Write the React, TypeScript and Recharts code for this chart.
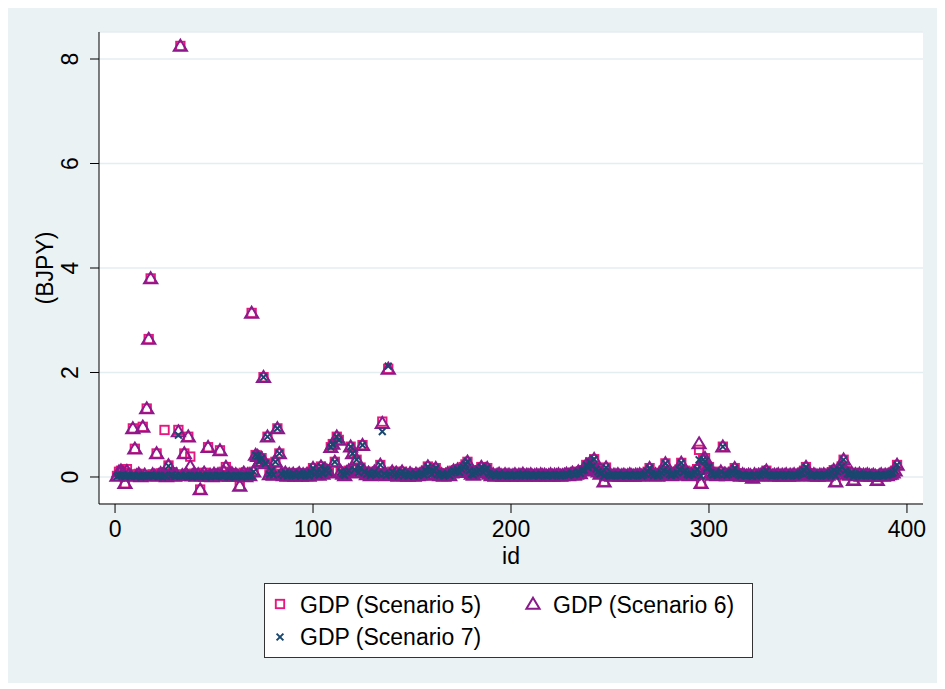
import React from 'react';
import { ScatterChart, Scatter, XAxis, YAxis, CartesianGrid } from 'recharts';

// GDP by id, three scenarios (BJPY); id runs 1..395
const gdpScenario6 = [
  0.02, 0.10, 0.12, 0.08, -0.12, 0.11, 0.05, 0.02, 0.93, 0.54, 0.03, 0.06, 0.01, 0.96, 0.04, 1.31, 2.64, 3.80, 0.05, 0.02,
  0.45, 0.03, 0.07, 0.04, 0.05, 0.01, 0.22, 0.04, 0.09, 0.02, 0.05, 0.87, 8.25, 0.03, 0.45, 0.06, 0.77, 0.20, 0.03, 0.06,
  0.02, 0.05, -0.24, 0.03, 0.08, 0.02, 0.57, 0.04, 0.01, 0.06, 0.03, 0.05, 0.51, 0.02, 0.10, 0.19, 0.04, 0.02, 0.07, 0.03,
  0.05, 0.02, -0.17, 0.04, 0.08, 0.01, 0.05, 0.03, 3.14, 0.10, 0.42, 0.40, 0.30, 0.36, 1.91, 0.26, 0.77, 0.05, 0.12, 0.04,
  0.29, 0.93, 0.45, 0.06, 0.03, 0.08, 0.02, 0.05, 0.03, 0.06, 0.02, 0.04, 0.07, 0.02, 0.05, 0.03, 0.06, 0.02, 0.08, 0.17,
  0.05, 0.09, 0.04, 0.20, 0.06, 0.15, 0.12, 0.08, 0.57, 0.63, 0.29, 0.77, 0.71, 0.10, 0.06, 0.03, 0.09, 0.12, 0.58, 0.45,
  0.14, 0.33, 0.08, 0.18, 0.61, 0.10, 0.05, 0.08, 0.03, 0.06, 0.10, 0.04, 0.07, 0.23, 1.03, 0.06, 0.03, 2.07, 0.05, 0.10,
  0.04, 0.08, 0.02, 0.06, 0.10, 0.03, 0.05, 0.02, 0.07, 0.04, 0.02, 0.06, 0.03, 0.05, 0.08, 0.04, 0.12, 0.20, 0.10, 0.05,
  0.12, 0.17, 0.06, 0.03, 0.05, 0.02, 0.04, 0.07, 0.03, 0.08, 0.12, 0.10, 0.14, 0.09, 0.15, 0.19, 0.24, 0.29, 0.12, 0.06,
  0.04, 0.08, 0.10, 0.13, 0.19, 0.09, 0.14, 0.17, 0.06, 0.03, 0.05, 0.02, 0.04, 0.06, 0.03, 0.02, 0.05, 0.03, 0.04, 0.02,
  0.03, 0.05, 0.02, 0.04, 0.03, 0.06, 0.02, 0.04, 0.03, 0.05, 0.02, 0.03, 0.04, 0.02, 0.05, 0.03, 0.04, 0.02, 0.03, 0.05,
  0.02, 0.04, 0.03, 0.05, 0.02, 0.03, 0.04, 0.06, 0.03, 0.05, 0.08, 0.04, 0.06, 0.10, 0.07, 0.12, 0.13, 0.23, 0.18, 0.28,
  0.20, 0.34, 0.15, 0.10, 0.06, 0.08, -0.09, 0.18, 0.05, 0.03, 0.02, 0.04, 0.03, 0.05, 0.02, 0.03, 0.04, 0.02, 0.03, 0.05,
  0.03, 0.02, 0.04, 0.03, 0.05, 0.02, 0.04, 0.06, 0.10, 0.17, 0.06, 0.03, 0.05, 0.02, 0.04, 0.08, 0.12, 0.26, 0.10, 0.05,
  0.03, 0.06, 0.04, 0.08, 0.14, 0.27, 0.09, 0.12, 0.05, 0.03, 0.06, 0.04, 0.08, 0.15, 0.64, -0.12, 0.33, 0.36, 0.17, 0.19,
  0.08, 0.04, 0.06, 0.03, 0.05, 0.10, 0.58, 0.06, 0.03, 0.05, 0.08, 0.10, 0.17, 0.07, 0.04, 0.02, 0.05, 0.03, 0.02, 0.04,
  0.03, -0.02, 0.05, 0.02, 0.04, 0.03, 0.06, 0.08, 0.12, 0.05, 0.03, 0.02, 0.04, 0.03, 0.05, 0.02, 0.04, 0.03, 0.05, 0.02,
  0.04, 0.03, 0.05, 0.02, 0.04, 0.06, 0.08, 0.12, 0.19, 0.07, 0.04, 0.02, 0.05, 0.03, 0.02, 0.04, 0.03, 0.05, 0.02, 0.04,
  0.06, 0.09, 0.13, -0.09, 0.10, 0.14, 0.20, 0.33, 0.12, 0.06, 0.04, 0.08, -0.06, 0.05, 0.03, 0.06, 0.02, 0.04, 0.03, 0.05,
  0.03, 0.02, 0.04, 0.02, -0.06, 0.03, 0.05, 0.02, 0.04, 0.03, 0.05, 0.06, 0.08, 0.12, 0.23,
];

const gdpScenario5 = [
  0.02, 0.10, 0.12, 0.08, -0.12, 0.15, 0.05, 0.02, 0.93, 0.54, 0.03, 0.06, 0.01, 0.96, 0.04, 1.31, 2.64, 3.80, 0.05, 0.02,
  0.45, 0.03, 0.07, 0.04, 0.90, 0.01, 0.22, 0.04, 0.09, 0.02, 0.05, 0.90, 8.25, 0.03, 0.45, 0.06, 0.77, 0.39, 0.03, 0.06,
  0.02, 0.05, -0.24, 0.03, 0.08, 0.02, 0.57, 0.04, 0.01, 0.06, 0.03, 0.05, 0.51, 0.02, 0.10, 0.19, 0.04, 0.02, 0.07, 0.03,
  0.05, 0.02, -0.17, 0.04, 0.08, 0.01, 0.05, 0.03, 3.14, 0.10, 0.42, 0.40, 0.30, 0.36, 1.91, 0.26, 0.77, 0.05, 0.12, 0.04,
  0.29, 0.93, 0.45, 0.06, 0.03, 0.08, 0.02, 0.05, 0.03, 0.06, 0.02, 0.04, 0.07, 0.02, 0.05, 0.03, 0.06, 0.02, 0.08, 0.17,
  0.05, 0.09, 0.04, 0.20, 0.06, 0.15, 0.12, 0.08, 0.57, 0.63, 0.29, 0.77, 0.71, 0.10, 0.06, 0.03, 0.09, 0.12, 0.58, 0.45,
  0.14, 0.33, 0.08, 0.18, 0.61, 0.10, 0.05, 0.08, 0.03, 0.06, 0.10, 0.04, 0.07, 0.23, 1.06, 0.06, 0.03, 2.07, 0.05, 0.10,
  0.04, 0.08, 0.02, 0.06, 0.10, 0.03, 0.05, 0.02, 0.07, 0.04, 0.02, 0.06, 0.03, 0.05, 0.08, 0.04, 0.12, 0.20, 0.10, 0.05,
  0.12, 0.17, 0.06, 0.03, 0.05, 0.02, 0.04, 0.07, 0.03, 0.08, 0.12, 0.10, 0.14, 0.09, 0.15, 0.19, 0.24, 0.29, 0.12, 0.06,
  0.04, 0.08, 0.10, 0.13, 0.19, 0.09, 0.14, 0.17, 0.06, 0.03, 0.05, 0.02, 0.04, 0.06, 0.03, 0.02, 0.05, 0.03, 0.04, 0.02,
  0.03, 0.05, 0.02, 0.04, 0.03, 0.06, 0.02, 0.04, 0.03, 0.05, 0.02, 0.03, 0.04, 0.02, 0.05, 0.03, 0.04, 0.02, 0.03, 0.05,
  0.02, 0.04, 0.03, 0.05, 0.02, 0.03, 0.04, 0.06, 0.03, 0.05, 0.08, 0.04, 0.06, 0.10, 0.07, 0.12, 0.13, 0.23, 0.18, 0.28,
  0.20, 0.34, 0.15, 0.10, 0.06, 0.08, -0.09, 0.18, 0.05, 0.03, 0.02, 0.04, 0.03, 0.05, 0.02, 0.03, 0.04, 0.02, 0.03, 0.05,
  0.03, 0.02, 0.04, 0.03, 0.05, 0.02, 0.04, 0.06, 0.10, 0.17, 0.06, 0.03, 0.05, 0.02, 0.04, 0.08, 0.12, 0.26, 0.10, 0.05,
  0.03, 0.06, 0.04, 0.08, 0.14, 0.27, 0.09, 0.12, 0.05, 0.03, 0.06, 0.04, 0.08, 0.15, 0.52, -0.12, 0.33, 0.36, 0.17, 0.19,
  0.08, 0.04, 0.06, 0.03, 0.05, 0.10, 0.58, 0.06, 0.03, 0.05, 0.08, 0.10, 0.17, 0.07, 0.04, 0.02, 0.05, 0.03, 0.02, 0.04,
  0.03, -0.02, 0.05, 0.02, 0.04, 0.03, 0.06, 0.08, 0.12, 0.05, 0.03, 0.02, 0.04, 0.03, 0.05, 0.02, 0.04, 0.03, 0.05, 0.02,
  0.04, 0.03, 0.05, 0.02, 0.04, 0.06, 0.08, 0.12, 0.19, 0.07, 0.04, 0.02, 0.05, 0.03, 0.02, 0.04, 0.03, 0.05, 0.02, 0.04,
  0.06, 0.09, 0.13, -0.09, 0.10, 0.14, 0.20, 0.33, 0.12, 0.06, 0.04, 0.08, -0.06, 0.05, 0.03, 0.06, 0.02, 0.04, 0.03, 0.05,
  0.03, 0.02, 0.04, 0.02, -0.06, 0.03, 0.05, 0.02, 0.04, 0.03, 0.05, 0.06, 0.08, 0.12, 0.23,
];

const gdpScenario7 = [
  0.01, 0.03, 0.02, 0.04, 0.01, 0.03, 0.02, 0.01, 0.03, 0.02, 0.01, 0.03, 0.00, 0.02, 0.01, 0.03, 0.02, 0.04, 0.01, 0.02,
  0.03, 0.01, 0.02, 0.00, 0.03, 0.01, 0.21, 0.02, 0.04, 0.01, 0.02, 0.80, 0.03, 0.01, 0.02, 0.03, 0.01, 0.02, 0.00, 0.03,
  0.01, 0.02, 0.01, 0.03, 0.02, 0.00, 0.02, 0.01, 0.03, 0.02, 0.01, 0.02, 0.03, 0.01, 0.02, 0.04, 0.01, 0.00, 0.02, 0.01,
  0.03, 0.01, 0.02, 0.00, 0.03, 0.01, 0.02, 0.01, 0.03, 0.10, 0.42, 0.40, 0.30, 0.36, 1.91, 0.26, 0.77, 0.05, 0.12, 0.04,
  0.29, 0.93, 0.45, 0.06, 0.03, 0.08, 0.02, 0.05, 0.03, 0.06, 0.02, 0.04, 0.07, 0.02, 0.05, 0.03, 0.06, 0.02, 0.08, 0.17,
  0.05, 0.09, 0.04, 0.20, 0.06, 0.15, 0.12, 0.08, 0.57, 0.63, 0.29, 0.77, 0.71, 0.10, 0.06, 0.03, 0.09, 0.12, 0.58, 0.45,
  0.14, 0.33, 0.08, 0.18, 0.61, 0.10, 0.05, 0.08, 0.03, 0.06, 0.10, 0.04, 0.07, 0.23, 0.87, 0.06, 0.03, 2.12, 0.05, 0.10,
  0.04, 0.08, 0.02, 0.06, 0.10, 0.03, 0.05, 0.02, 0.07, 0.04, 0.02, 0.06, 0.03, 0.05, 0.08, 0.04, 0.12, 0.20, 0.10, 0.05,
  0.12, 0.17, 0.06, 0.03, 0.05, 0.02, 0.04, 0.07, 0.03, 0.08, 0.12, 0.10, 0.14, 0.09, 0.15, 0.19, 0.24, 0.29, 0.12, 0.06,
  0.04, 0.08, 0.10, 0.13, 0.19, 0.09, 0.14, 0.17, 0.06, 0.03, 0.05, 0.02, 0.04, 0.06, 0.03, 0.02, 0.05, 0.03, 0.04, 0.02,
  0.03, 0.05, 0.02, 0.04, 0.03, 0.06, 0.02, 0.04, 0.03, 0.05, 0.02, 0.03, 0.04, 0.02, 0.05, 0.03, 0.04, 0.02, 0.03, 0.05,
  0.02, 0.04, 0.03, 0.05, 0.02, 0.03, 0.04, 0.06, 0.03, 0.05, 0.08, 0.04, 0.06, 0.10, 0.07, 0.12, 0.13, 0.23, 0.18, 0.28,
  0.20, 0.34, 0.15, 0.10, 0.06, 0.08, 0.02, 0.18, 0.05, 0.03, 0.02, 0.04, 0.03, 0.05, 0.02, 0.03, 0.04, 0.02, 0.03, 0.05,
  0.03, 0.02, 0.04, 0.03, 0.05, 0.02, 0.04, 0.06, 0.10, 0.17, 0.06, 0.03, 0.05, 0.02, 0.04, 0.08, 0.12, 0.26, 0.10, 0.05,
  0.03, 0.06, 0.04, 0.08, 0.14, 0.27, 0.09, 0.12, 0.05, 0.03, 0.06, 0.04, 0.08, 0.15, 0.33, 0.02, 0.33, 0.30, 0.17, 0.19,
  0.08, 0.04, 0.06, 0.03, 0.05, 0.10, 0.58, 0.06, 0.03, 0.05, 0.08, 0.10, 0.17, 0.07, 0.04, 0.02, 0.05, 0.03, 0.02, 0.04,
  0.03, 0.01, 0.05, 0.02, 0.04, 0.03, 0.06, 0.08, 0.12, 0.05, 0.03, 0.02, 0.04, 0.03, 0.05, 0.02, 0.04, 0.03, 0.05, 0.02,
  0.04, 0.03, 0.05, 0.02, 0.04, 0.06, 0.08, 0.12, 0.19, 0.07, 0.04, 0.02, 0.05, 0.03, 0.02, 0.04, 0.03, 0.05, 0.02, 0.04,
  0.06, 0.09, 0.13, 0.02, 0.10, 0.14, 0.20, 0.33, 0.12, 0.06, 0.04, 0.08, 0.01, 0.05, 0.03, 0.06, 0.02, 0.04, 0.03, 0.05,
  0.03, 0.02, 0.04, 0.02, 0.01, 0.03, 0.05, 0.02, 0.04, 0.03, 0.05, 0.06, 0.08, 0.12, 0.23,
];

const xTicks = [0, 100, 200, 300, 400];
const yTicks = [0, 2, 4, 6, 8];
const seriesNames = ['GDP (Scenario 5)', 'GDP (Scenario 6)', 'GDP (Scenario 7)'];

const FONT = '"Liberation Sans", Arial, Helvetica, sans-serif';
const PINK = '#E8177F';
const PURPLE = '#8A1A8C';
const NAVY = '#1A476F';

const toPoints = (vals: number[]) => vals.map((v, i) => ({ id: i + 1, gdp: v }));
const data5 = toPoints(gdpScenario5);
const data6 = toPoints(gdpScenario6);
const data7 = toPoints(gdpScenario7);

const SquareMark = ({ cx, cy }: any) => (
  <rect x={cx - 4.2} y={cy - 4.2} width={8.4} height={8.4} fill="none" stroke={PINK} strokeWidth={1.9} />
);
const TriangleMark = ({ cx, cy }: any) => (
  <path d={`M${cx},${cy - 6.2}L${cx + 6.6},${cy + 4.8}L${cx - 6.6},${cy + 4.8}Z`} fill="none" stroke={PURPLE} strokeWidth={2} strokeLinejoin="miter" />
);
const XMark = ({ cx, cy }: any) => (
  <path d={`M${cx - 3.4},${cy - 3.4}L${cx + 3.4},${cy + 3.4}M${cx - 3.4},${cy + 3.4}L${cx + 3.4},${cy - 3.4}`} stroke={NAVY} strokeWidth={2} />
);

const XTick = ({ x, y, payload }: any) => (
  <text x={x} y={y + 22} textAnchor="middle" fontSize={23} fontFamily={FONT} fill="#000">{payload.value}</text>
);
const YTick = ({ x, y, payload }: any) => (
  <text x={x - 10} y={y} transform={`rotate(-90, ${x - 10}, ${y})`} textAnchor="middle" fontSize={23} fontFamily={FONT} fill="#000">
    {payload.value}
  </text>
);

export default function App() {
  return (
    <div style={{ position: 'relative', width: 929, height: 675, background: '#EAF2F3' }}>
      <ScatterChart width={929} height={675} margin={{ top: 24, right: 14, bottom: 119, left: 0 }}>
        <CartesianGrid horizontal vertical={false} fill="#ffffff" stroke="#E4EDF0" strokeWidth={1.5} />
        <XAxis
          type="number"
          dataKey="id"
          domain={[-8.1, 408.1]}
          ticks={xTicks}
          allowDataOverflow
          height={60}
          tickSize={9}
          tick={<XTick />}
          stroke="#000"
          label={{ content: () => <text x={503} y={556} textAnchor="middle" fontSize={23} fontFamily={FONT} fill="#000">id</text> }}
        />
        <YAxis
          type="number"
          dataKey="gdp"
          domain={[-0.517, 8.517]}
          ticks={yTicks}
          allowDataOverflow
          width={91}
          tickSize={9}
          tick={<YTick />}
          stroke="#000"
          label={{ content: () => <text x={45} y={260} transform="rotate(-90, 45, 260)" textAnchor="middle" fontSize={23} fontFamily={FONT} fill="#000">(BJPY)</text> }}
        />
        <Scatter name={seriesNames[0]} data={data5} shape={<SquareMark />} isAnimationActive={false} />
        <Scatter name={seriesNames[1]} data={data6} shape={<TriangleMark />} isAnimationActive={false} />
        <Scatter name={seriesNames[2]} data={data7} shape={<XMark />} isAnimationActive={false} />
      </ScatterChart>

      {/* legend box under the plot */}
      <svg style={{ position: 'absolute', left: 256, top: 575 }} width={489} height={75}>
        <rect x={0.5} y={0.5} width={488} height={74} fill="#fff" stroke="#333" strokeWidth={1} />
        <SquareMark cx={16} cy={21} />
        <text x={36} y={30} fontSize={23} fontFamily={FONT} fill="#000">{seriesNames[0]}</text>
        <TriangleMark cx={269} cy={21} />
        <text x={289} y={30} fontSize={23} fontFamily={FONT} fill="#000">{seriesNames[1]}</text>
        <XMark cx={16} cy={54} />
        <text x={36} y={62} fontSize={23} fontFamily={FONT} fill="#000">{seriesNames[2]}</text>
      </svg>
    </div>
  );
}
